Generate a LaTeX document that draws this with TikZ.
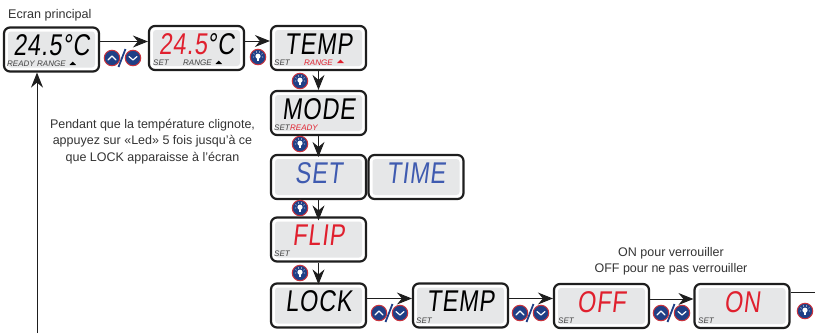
\documentclass[tikz,border=0pt]{standalone}
\usepackage{fontspec}
\setmainfont{Liberation Sans}
\newfontfamily\segfont[FakeStretch=0.78,FakeSlant=0.12,LetterSpace=3]{Liberation Sans}
\usetikzlibrary{arrows.meta}
\definecolor{lcdgray}{HTML}{E6E7E8}
\definecolor{segblue}{HTML}{3F5BB0}
\definecolor{segred}{HTML}{E0202E}
\definecolor{btnblue}{HTML}{1F3F86}
\definecolor{btnring}{HTML}{C8323C}
\definecolor{framegray}{HTML}{1E1E1E}
\tikzset{
  lcdbox/.style={draw=framegray,line width=2.2pt,rounded corners=6pt,fill=white,
    minimum width=95pt,minimum height=44pt,inner sep=0pt,text height=22pt,text depth=10pt,
    font=\segfont\fontsize{30}{30}\selectfont,
    path picture={\fill[lcdgray,rounded corners=3pt]
      ([shift={(4pt,-4pt)}]path picture bounding box.north west) rectangle
      ([shift={(-4pt,4pt)}]path picture bounding box.south east);}},
  flow/.style={draw=framegray,line width=1pt,-{Stealth[length=15pt,width=12pt,inset=5pt]}},
  tag/.style={inner sep=0pt,anchor=base west,font=\itshape\fontsize{8}{8}\selectfont,text=black!75},
  caption/.style={inner sep=0pt,align=center,font=\fontsize{12.5}{16.3}\selectfont,text=black!80},
  btn/.style={circle,draw=btnring,line width=1pt,fill=btnblue,minimum size=15.5pt,inner sep=0pt},
  chev/.style={white,line width=1.2pt,line cap=round,line join=round}
}
% up / down pair with the slash between
\newcommand{\updown}[2]{
  \node[btn] at (#1,#2) {};
  \node[btn] at (#1+21,#2) {};
  \draw[chev] (#1-4,#2+2) -- (#1,#2-2) -- (#1+4,#2+2);
  \draw[chev] (#1+17,#2-1.5) -- (#1+21,#2+2) -- (#1+25,#2-1.5);
  \draw[btnblue,line width=1.8pt] (#1+6.5,#2+9) -- (#1+13.5,#2-9);
}
% led button
\newcommand{\ledbtn}[2]{
  \node[btn] at (#1,#2) {};
  \fill[white] (#1,#2-0.8) circle (2.6pt);
  \fill[white] (#1-1.3,#2+1) rectangle (#1+1.3,#2+3.8);
  \foreach \a in {-150,-110,-70,-30,10,170}
    \draw[white,line width=0.5pt] (#1,#2-0.8) ++(\a:3.9) -- ++(\a:1.3);
}
\begin{document}
\begin{tikzpicture}[x=1pt,y=-1pt]
  \useasboundingbox (0,0) rectangle (815,333);
  % displays
  \node[lcdbox] (main) at (51.5,49.5) {24.5°C};
  \node[lcdbox] (setpt) at (196.5,48) {\textcolor{segred}{24.5}°C};
  \node[lcdbox] (temp) at (318.5,48) {TEMP};
  \node[lcdbox] (mode) at (318.5,113) {MODE};
  \node[lcdbox,text=segblue] (set) at (318.5,177) {SET};
  \node[lcdbox,text=segblue] (time) at (416,177) {TIME};
  \node[lcdbox,text=segred] (flip) at (318.5,239.5) {FLIP};
  \node[lcdbox] (lock) at (318.5,305.5) {LOCK};
  \node[lcdbox] (tempb) at (460.5,305.5) {TEMP};
  \node[lcdbox,text=segred] (off) at (601.5,306) {OFF};
  \node[lcdbox,text=segred] (on) at (742,306) {ON};
  \coordinate (onend) at (815,292);
  \coordinate (rtn) at (37,333);
  % small tags
  \node[tag] (mready) at (7,66) {READY};
  \node[tag] (mrange) at (37,66) {RANGE};
  \node[tag] (sset) at (153,65) {SET};
  \node[tag] (srange) at (183,65) {RANGE};
  \node[tag] (tset) at (274,65) {SET};
  \node[tag,text=segred] (trange) at (304,65) {RANGE};
  \node[tag] (mset) at (274,130) {SET};
  \node[tag,text=segred] (mmready) at (290,130) {READY};
  \node[tag] (fset) at (274,256) {SET};
  \node[tag] (bset) at (416,323) {SET};
  \node[tag] (oset) at (558,323) {SET};
  \node[tag] (nset) at (698,323) {SET};
  \fill[black] (69.5,65) -- (76,65) -- (72.75,61.5) -- cycle;
  \fill[black] (215.5,64) -- (222,64) -- (218.75,60.5) -- cycle;
  \fill[segred] (337,63) -- (344,63) -- (340.5,59.5) -- cycle;
  % connectors
  \draw[flow] ([yshift=8pt]main.east) -- ([yshift=8pt]main.east -| setpt.west);
  \draw[flow] ([yshift=7pt]setpt.east) -- ([yshift=7pt]setpt.east -| temp.west);
  \draw[flow] (temp) -- (mode);
  \draw[flow] (mode) -- ([yshift=-3pt]set.north);
  \draw[flow] (set) -- ([yshift=-4pt]flip.north);
  \draw[flow] (flip) -- ([yshift=-2pt]lock.north);
  \draw[flow] ([yshift=7pt]lock.east) -- ([yshift=7pt]lock.east -| tempb.west);
  \draw[flow] ([yshift=7pt]tempb.east) -- ([yshift=7pt]tempb.east -| off.west);
  \draw[flow] ([yshift=7pt]off.east) -- ([yshift=7pt]off.east -| on.west);
  \draw[draw=framegray,line width=1pt] (on.east |- onend) -- (onend);
  \draw[flow] (rtn) -- (rtn |- main.south);
  % buttons
  \updown{112}{58}
  \ledbtn{258}{57}
  \ledbtn{300}{81}
  \ledbtn{300}{144}
  \ledbtn{300}{208}
  \ledbtn{300}{273}
  \updown{379}{313}
  \updown{520}{313}
  \updown{661}{313}
  \ledbtn{805}{311}
  % captions
  \node[inner sep=0pt,anchor=base west,font=\fontsize{12.6}{14}\selectfont,text=black!80] (ecran) at (8,18.5) {Ecran principal};
  \node[caption] (hint) at (152.5,141.5) {Pendant que la température clignote,\\appuyez sur «Led» 5 fois jusqu’à ce\\que LOCK apparaisse à l’écran};
  \node[caption] (onoff) at (671,261) {ON pour verrouiller\\OFF pour ne pas verrouiller};
\end{tikzpicture}
\end{document}
